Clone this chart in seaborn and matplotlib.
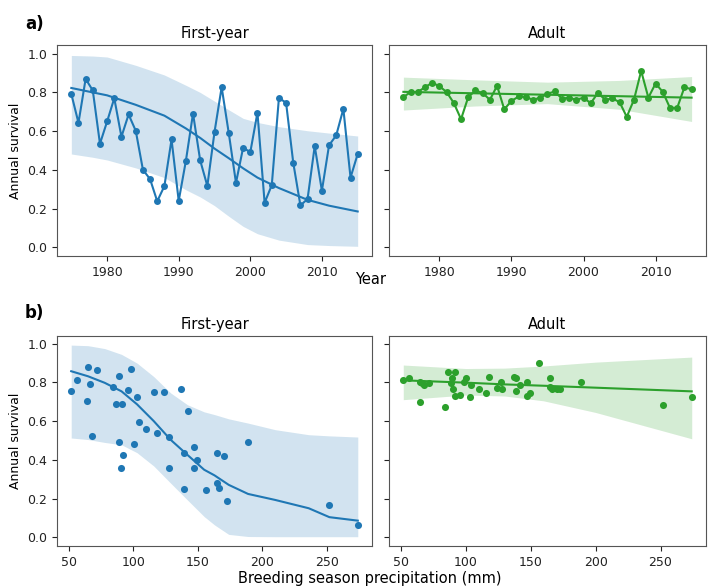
import numpy as np
import pandas as pd
import matplotlib
matplotlib.use("Agg")
import matplotlib.pyplot as plt
import seaborn as sns

# ---------------- data ----------------
years = list(range(1975, 2016))
fy_survival = [0.792, 0.643, 0.870, 0.810, 0.535, 0.650, 0.770, 0.571, 0.686, 0.602,
               0.401, 0.352, 0.238, 0.316, 0.557, 0.240, 0.446, 0.691, 0.449, 0.317,
               0.595, 0.827, 0.588, 0.333, 0.515, 0.491, 0.696, 0.230, 0.321, 0.772,
               0.746, 0.437, 0.216, 0.250, 0.523, 0.292, 0.527, 0.578, 0.715, 0.360,
               0.482]
ad_survival = [0.776, 0.802, 0.802, 0.827, 0.850, 0.832, 0.802, 0.745, 0.662, 0.776,
               0.810, 0.797, 0.762, 0.834, 0.713, 0.756, 0.779, 0.776, 0.762, 0.773,
               0.793, 0.805, 0.768, 0.773, 0.762, 0.773, 0.744, 0.798, 0.762, 0.769,
               0.750, 0.674, 0.762, 0.911, 0.773, 0.846, 0.803, 0.720, 0.720, 0.826,
               0.817]

# model fit vs year (first-year)
fy_year_grid = [1975, 1978, 1980, 1984, 1988, 1991, 1993, 1995, 1997, 1999, 2001, 2004, 2008, 2011, 2015]
fy_year_fit = [0.823, 0.80, 0.785, 0.736, 0.68, 0.614, 0.565, 0.51, 0.46, 0.408, 0.36, 0.306, 0.245, 0.215, 0.185]
fy_year_hi = [0.991, 0.988, 0.983, 0.94, 0.89, 0.837, 0.80, 0.755, 0.71, 0.666, 0.645, 0.623, 0.602, 0.59, 0.575]
fy_year_lo = [0.482, 0.465, 0.451, 0.41, 0.36, 0.297, 0.26, 0.215, 0.16, 0.108, 0.07, 0.037, 0.014, 0.009, 0.005]

# model fit vs year (adult)
ad_year_grid = [1975, 1985, 1995, 2005, 2015]
ad_year_fit = [0.803, 0.7955, 0.788, 0.7805, 0.773]
ad_year_hi = [0.879, 0.865, 0.853, 0.862, 0.882]
ad_year_lo = [0.709, 0.73, 0.742, 0.713, 0.650]

# precipitation panels
precip = [51.6, 56.6, 64.6, 65.0, 66.5, 67.8, 71.7, 84.0, 86.7, 88.8, 89.4, 90.5, 91.7, 92.1,
          95.9, 98.5, 100.5, 103.3, 104.2, 110.0, 115.8, 118.1, 123.8, 127.5, 127.7, 137.3,
          139.1, 139.1, 142.2, 147.3, 147.4, 149.7, 156.6, 164.8, 165.0, 166.2, 170.0, 172.6,
          189.0, 252.0, 274.0]
fy_precip_surv = [0.756, 0.812, 0.703, 0.881, 0.794, 0.525, 0.862, 0.779, 0.691, 0.494,
                  0.831, 0.358, 0.691, 0.423, 0.763, 0.870, 0.480, 0.724, 0.596, 0.560,
                  0.751, 0.541, 0.751, 0.520, 0.358, 0.767, 0.434, 0.252, 0.651, 0.466,
                  0.358, 0.399, 0.245, 0.434, 0.283, 0.257, 0.421, 0.190, 0.492, 0.169,
                  0.064]
ad_precip_surv = [0.811, 0.824, 0.699, 0.804, 0.797, 0.788, 0.797, 0.675, 0.855, 0.795,
                  0.821, 0.766, 0.730, 0.855, 0.737, 0.802, 0.824, 0.725, 0.785, 0.764,
                  0.745, 0.830, 0.773, 0.800, 0.764, 0.826, 0.821, 0.754, 0.788, 0.800,
                  0.728, 0.745, 0.902, 0.821, 0.776, 0.764, 0.766, 0.766, 0.804, 0.683,
                  0.726]

fy_precip_grid = [52, 65, 78, 91, 103, 116, 129, 142, 155, 163, 174, 189, 210, 236, 252, 274]
fy_precip_fit = [0.858, 0.832, 0.798, 0.754, 0.687, 0.60, 0.504, 0.426, 0.349, 0.32, 0.271, 0.224, 0.193, 0.15, 0.104, 0.086]
fy_precip_hi = [0.993, 0.99, 0.975, 0.945, 0.90, 0.83, 0.746, 0.685, 0.648, 0.634, 0.612, 0.59, 0.556, 0.53, 0.524, 0.518]
fy_precip_lo = [0.513, 0.505, 0.49, 0.478, 0.437, 0.368, 0.28, 0.193, 0.107, 0.064, 0.015, 0.004, 0.003, 0.003, 0.003, 0.003]

ad_precip_grid = [52, 100, 130, 160, 200, 274]
ad_precip_fit = [0.811, 0.799, 0.790, 0.783, 0.773, 0.754]
ad_precip_hi = [0.89, 0.872, 0.874, 0.885, 0.905, 0.931]
ad_precip_lo = [0.711, 0.735, 0.73, 0.705, 0.645, 0.509]

# ---------------- figure ----------------
BLUE = "#1f77b4"
GREEN = "#2ca02c"

fig = plt.figure(figsize=(7.1, 5.87), dpi=100)
W, H = 710, 587


def add_ax(l, t, r, b):
    return fig.add_axes([l / W, 1 - b / H, (r - l) / W, (b - t) / H])


ax1 = add_ax(57, 45, 372, 256)
ax2 = add_ax(389, 45, 706, 256)
ax3 = add_ax(57, 336, 372, 546)
ax4 = add_ax(389, 336, 706, 546)

# top-left
ax1.fill_between(fy_year_grid, fy_year_lo, fy_year_hi, color=BLUE, alpha=0.2, linewidth=0)
sns.lineplot(x=fy_year_grid, y=fy_year_fit, ax=ax1, color=BLUE, linewidth=1.5)
sns.lineplot(x=years, y=fy_survival, ax=ax1, color=BLUE, linewidth=1.5,
             marker="o", markersize=5, markeredgewidth=0)

# top-right
ax2.fill_between(ad_year_grid, ad_year_lo, ad_year_hi, color=GREEN, alpha=0.2, linewidth=0)
sns.lineplot(x=ad_year_grid, y=ad_year_fit, ax=ax2, color=GREEN, linewidth=1.5)
sns.lineplot(x=years, y=ad_survival, ax=ax2, color=GREEN, linewidth=1.5,
             marker="o", markersize=5, markeredgewidth=0)

# bottom-left
ax3.fill_between(fy_precip_grid, fy_precip_lo, fy_precip_hi, color=BLUE, alpha=0.2, linewidth=0)
sns.lineplot(x=fy_precip_grid, y=fy_precip_fit, ax=ax3, color=BLUE, linewidth=1.5)
sns.scatterplot(x=precip, y=fy_precip_surv, ax=ax3, color=BLUE, s=26, linewidth=0)

# bottom-right
ax4.fill_between(ad_precip_grid, ad_precip_lo, ad_precip_hi, color=GREEN, alpha=0.2, linewidth=0)
sns.lineplot(x=ad_precip_grid, y=ad_precip_fit, ax=ax4, color=GREEN, linewidth=1.5)
sns.scatterplot(x=precip, y=ad_precip_surv, ax=ax4, color=GREEN, s=26, linewidth=0)

yticks = [0.0, 0.2, 0.4, 0.6, 0.8, 1.0]
for ax in (ax1, ax2):
    ax.set_xlim(1973, 2017)
    ax.set_xticks([1980, 1990, 2000, 2010])
    ax.set_ylim(-0.045, 1.045)
for ax in (ax3, ax4):
    ax.set_xlim(41, 285)
    ax.set_xticks([50, 100, 150, 200, 250])
    ax.set_ylim(-0.045, 1.04)

for ax in (ax1, ax2, ax3, ax4):
    ax.set_yticks(yticks)
    ax.tick_params(labelsize=9, colors="#222222")
    for sp in ax.spines.values():
        sp.set_color("#555555")
    ax.set_xlabel("")
    ax.set_ylabel("")

for ax in (ax2, ax4):
    ax.set_yticklabels([])

for ax in (ax1, ax3):
    ax.set_yticklabels(["0.0", "0.2", "0.4", "0.6", "0.8", "1.0"])
    ax.set_ylabel("Annual survival", fontsize=9, labelpad=4)

ax1.set_title("First-year", fontsize=10.5, pad=5)
ax2.set_title("Adult", fontsize=10.5, pad=5)
ax3.set_title("First-year", fontsize=10.5, pad=5)
ax4.set_title("Adult", fontsize=10.5, pad=5)

fig.text(25 / W, 1 - 24 / H, "a)", fontsize=12, fontweight="semibold", va="center", ha="left")
fig.text(25 / W, 1 - 313 / H, "b)", fontsize=12, fontweight="semibold", va="center", ha="left")
fig.text(371 / W, 1 - 280 / H, "Year", fontsize=10.5, va="center", ha="center")
fig.text(370 / W, 1 - 578 / H, "Breeding season precipitation (mm)", fontsize=10.5,
         va="center", ha="center")

fig.savefig("out.png", dpi=100)
